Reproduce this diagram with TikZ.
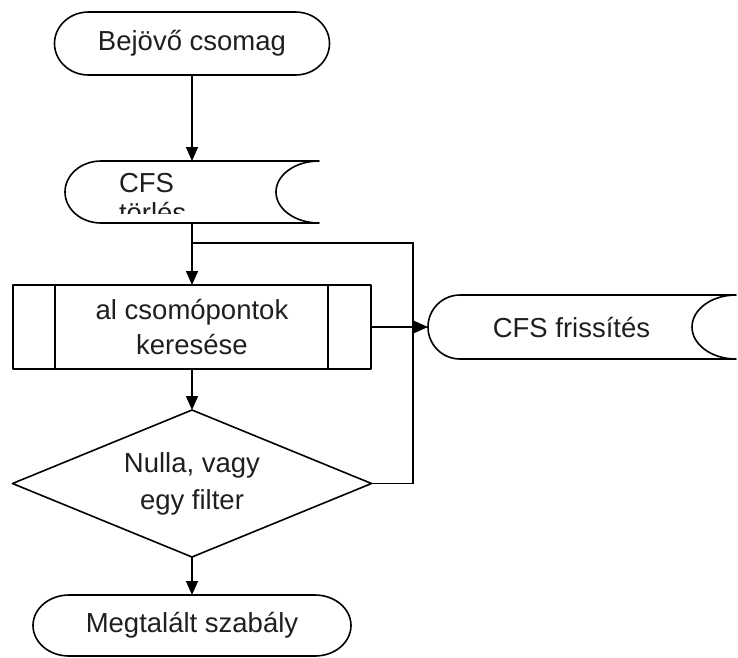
\documentclass[tikz,border=0pt]{standalone}
\usepackage{fontspec}
\setmainfont{Liberation Sans}
\usetikzlibrary{arrows.meta,calc}
\begin{document}
\begin{tikzpicture}[x=1pt,y=-1pt,
  outline/.style={draw=black, line width=1.6pt, line join=round},
  link/.style={draw=black, line width=1.6pt},
  flow/.style={link, -{Triangle[width=12pt,length=14pt]}},
  shapebox/.style={inner sep=0pt, outer sep=0pt, text=black!88, align=center,
    font=\fontsize{27.5}{35}\selectfont},
]
\useasboundingbox (0,0) rectangle (738,657);

% start terminal
\node[shapebox, minimum width=275pt, minimum height=63pt] (start) at (192,43.5) {Bejövő csomag};
\draw[outline] ($(start.north west)+(34,0)$) -- ($(start.north east)+(-34,0)$)
  arc[start angle=90, end angle=-90, x radius=34pt, y radius=31.5pt]
  -- ($(start.south west)+(34,0)$)
  arc[start angle=270, end angle=90, x radius=34pt, y radius=31.5pt] -- cycle;

% stored data: CFS törlés
\node[shapebox, minimum width=254pt, minimum height=62pt] (del) at (192,192) {};
\draw[outline] ($(del.north west)+(36,0)$) -- (del.north east)
  arc[start angle=90, end angle=270, x radius=43pt, y radius=31pt]
  -- ($(del.south west)+(36,0)$)
  arc[start angle=270, end angle=90, x radius=36pt, y radius=31pt] -- cycle;
\begin{scope}
  \clip (60,150) rectangle (322,213.5);
  \node[shapebox, align=left, anchor=north west] (dellabel) at (119,172.8) {CFS\\[-5pt]törlés};
\end{scope}

% predefined process
\node[shapebox, minimum width=358pt, minimum height=84pt] (sub) at (192,327) {al csomópontok\\keresése};
\draw[outline] (sub.north west) rectangle (sub.south east);
\draw[outline] ($(sub.north west)+(42,0)$) -- ($(sub.south west)+(42,0)$);
\draw[outline] ($(sub.north east)+(-43,0)$) -- ($(sub.south east)+(-43,0)$);

% decision
\node[shapebox, minimum width=359pt, minimum height=147pt] (dec) at (192,483.5) {Nulla, vagy\\[2pt]egy filter};
\draw[outline] (dec.north) -- (dec.east) -- (dec.south) -- (dec.west) -- cycle;

% end terminal
\node[shapebox, minimum width=318pt, minimum height=61pt] (stop) at (192,625.5) {Megtalált szabály};
\draw[outline] ($(stop.north west)+(36,0)$) -- ($(stop.north east)+(-36,0)$)
  arc[start angle=90, end angle=-90, x radius=36pt, y radius=30.5pt]
  -- ($(stop.south west)+(36,0)$)
  arc[start angle=270, end angle=90, x radius=36pt, y radius=30.5pt] -- cycle;

% stored data: CFS frissítés
\node[shapebox, minimum width=308pt, minimum height=64pt] (upd) at (582,327) {CFS frissítés\hspace*{21pt}};
\draw[outline] ($(upd.north west)+(32,0)$) -- (upd.north east)
  arc[start angle=90, end angle=270, x radius=44pt, y radius=32pt]
  -- ($(upd.south west)+(32,0)$)
  arc[start angle=270, end angle=90, x radius=32pt, y radius=32pt] -- cycle;

% connectors
\coordinate (tap) at (192,243);
\coordinate (bend) at (413,243);
\draw[flow] (start.south) -- (del.north);
\draw[flow] (del.south) -- (sub.north);
\draw[link] (dec.east) -| (bend) -- (tap);
\draw[flow] (sub.east) -- (upd.west);
\draw[flow] (sub.south) -- (dec.north);
\draw[flow] (dec.south) -- (stop.north);
\end{tikzpicture}
\end{document}
